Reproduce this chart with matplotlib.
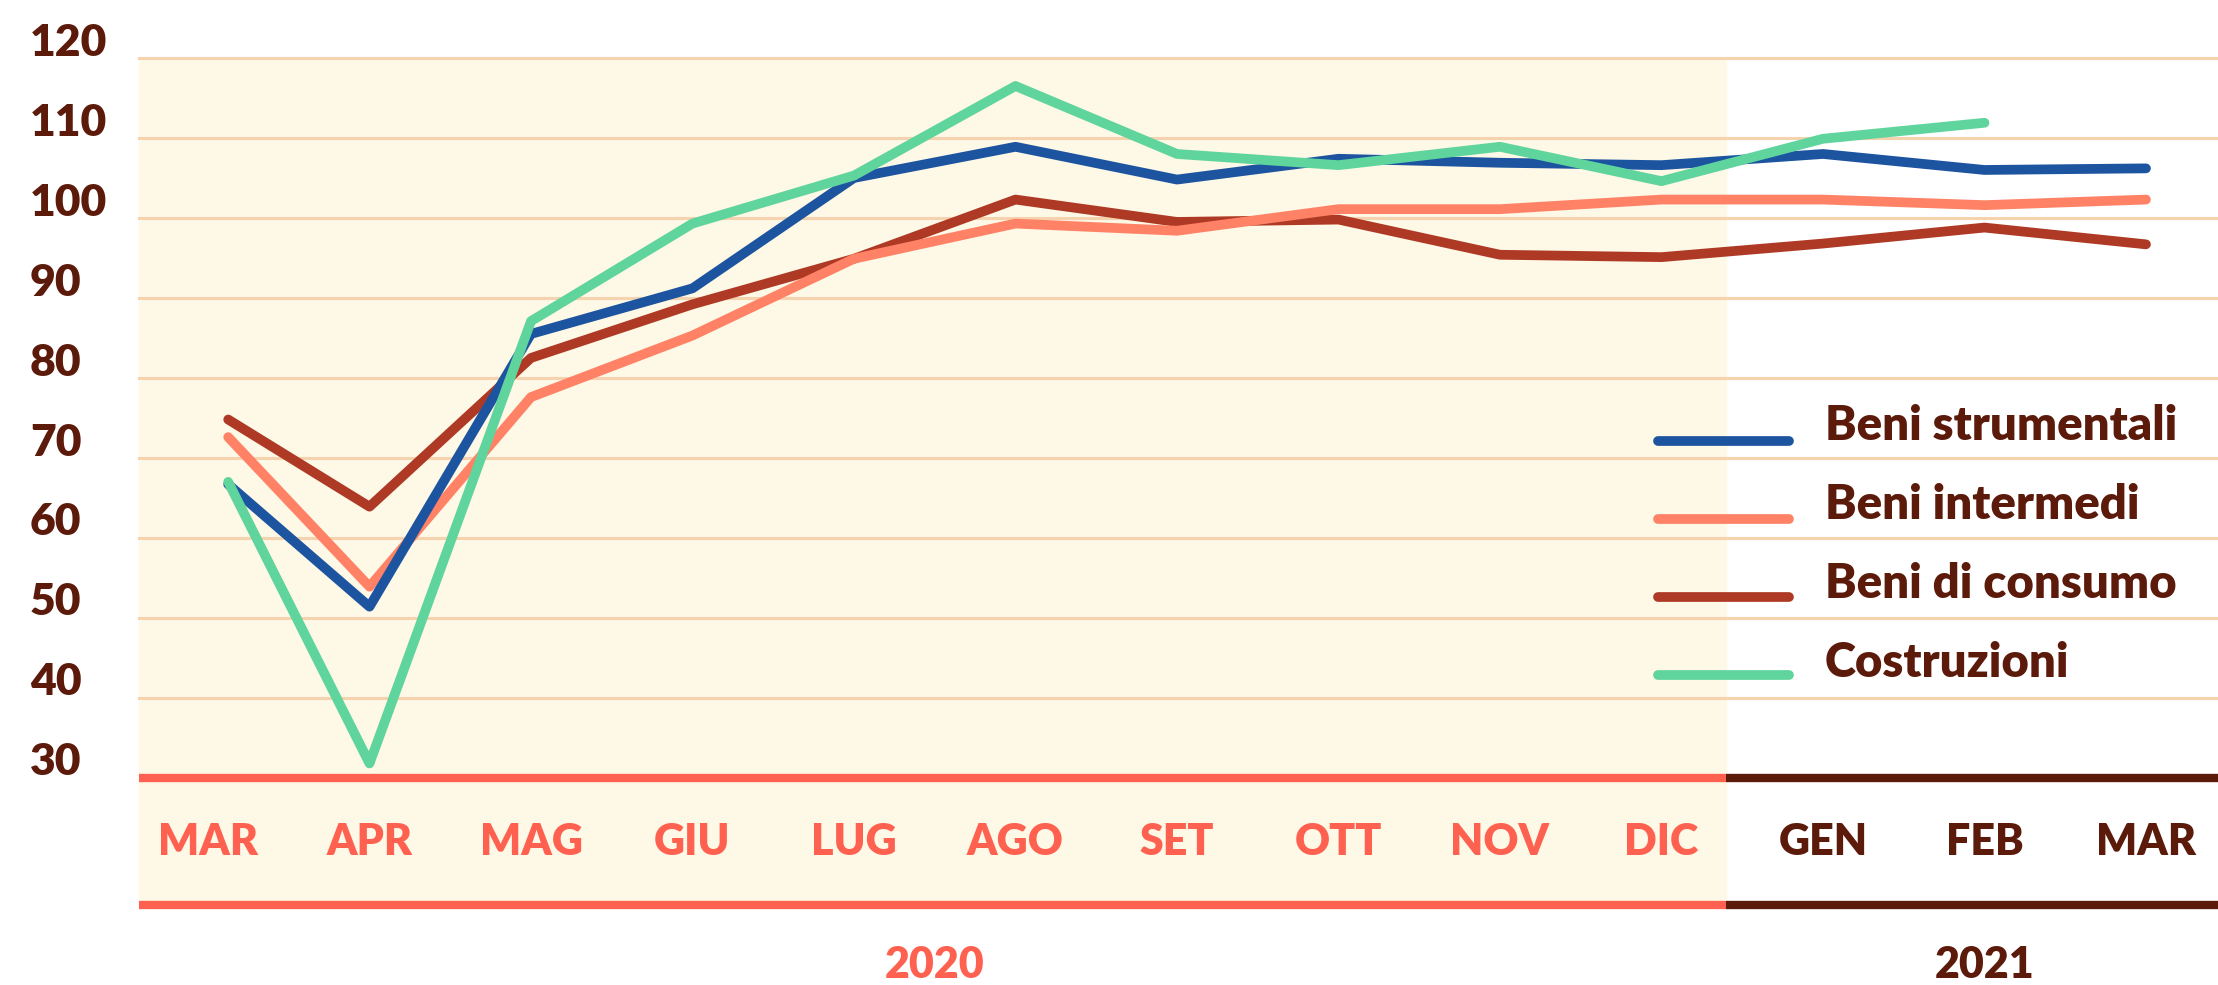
import matplotlib.pyplot as plt

months = ["MAR", "APR", "MAG", "GIU", "LUG", "AGO", "SET", "OTT", "NOV", "DIC",
          "GEN", "FEB", "MAR"]
years = ["2020", "2021"]
y_ticks = [30, 40, 50, 60, 70, 80, 90, 100, 110, 120]

strumentali = [66.7, 51.4, 85.5, 91.2, 105.0, 108.9, 104.8, 107.4, 106.9, 106.6, 108.0, 106.0, 106.2]
intermedi = [72.6, 53.9, 77.6, 85.3, 94.9, 99.3, 98.4, 101.1, 101.1, 102.3, 102.3, 101.6, 102.3]
consumo = [74.8, 63.9, 82.5, 89.2, 94.9, 102.3, 99.5, 99.8, 95.4, 95.1, 96.8, 98.8, 96.7]
costruzioni = [67.0, 31.8, 87.1, 99.3, 105.3, 116.5, 108.0, 106.6, 108.9, 104.6, 109.9, 111.9]

names = ["Beni strumentali", "Beni intermedi", "Beni di consumo", "Costruzioni"]
colors = ["#1C54A0", "#FF8266", "#AE3A25", "#5FD49D"]

BROWN = "#5C1A0B"
CORAL = "#FF6150"
CREAM = "#FEF8E6"
GRID = "#F5D3AE"
W = 'heavy'

plt.rcParams['font.family'] = ['Lato', 'DejaVu Sans']

fig = plt.figure(figsize=(22.18, 9.85), dpi=100)
ax = fig.add_axes([0, 0, 1, 1])
ax.set_xlim(-1.288, 12.446)
ax.set_ylim(4.1, 127.25)
ax.axis('off')

left, split, right = -0.427, 9.4, 12.446
bottom = 14.1

# shaded 2020 region
ax.fill_between([left, split], bottom, 120, color=CREAM, zorder=0)

# grid
for v in y_ticks[1:]:
    ax.plot([left, right], [v, v], color=GRID, lw=2.2, zorder=1)

# axis bands
for yy in [30, bottom]:
    ax.plot([left, split], [yy, yy], color=CORAL, lw=6, solid_capstyle='butt', zorder=2)
    ax.plot([split, right], [yy, yy], color=BROWN, lw=6, solid_capstyle='butt', zorder=2)

# y labels
for v in y_ticks:
    ax.text(-1.102, v + 0.3, str(v), color=BROWN, fontsize=32, fontweight=W,
            ha='left', va='baseline')

# month labels
for i, m in enumerate(months):
    c = CORAL if i < 10 else BROWN
    ax.text(i, 22.0, m, color=c, fontsize=31, fontweight=W, ha='center', va='center')

ax.text(4.5, 6.6, years[0], color=CORAL, fontsize=31, fontweight=W, ha='center', va='center')
ax.text(11, 6.6, years[1], color=BROWN, fontsize=31, fontweight=W, ha='center', va='center')

# series (first point sits a little right of the MAR label)
all_series = [strumentali, intermedi, consumo, costruzioni]
order = [2, 1, 0, 3]
for z, k in enumerate(order):
    data = all_series[k]
    xs = [0.125] + list(range(1, len(data)))
    ax.plot(xs, data, color=colors[k], lw=7, solid_joinstyle='round',
            solid_capstyle='round', zorder=3 + z)

# legend
leg_line_y = [72.1, 62.4, 52.6, 42.9]
leg_text_y = [74.0, 64.1, 54.2, 44.4]
for k in range(4):
    ax.plot([8.98, 9.79], [leg_line_y[k]] * 2, color=colors[k], lw=7,
            solid_capstyle='round', zorder=8)
    ax.text(10.01, leg_text_y[k], names[k], color=BROWN, fontsize=34, fontweight=W,
            ha='left', va='center')

fig.savefig("out.png", dpi=100, facecolor='white')
